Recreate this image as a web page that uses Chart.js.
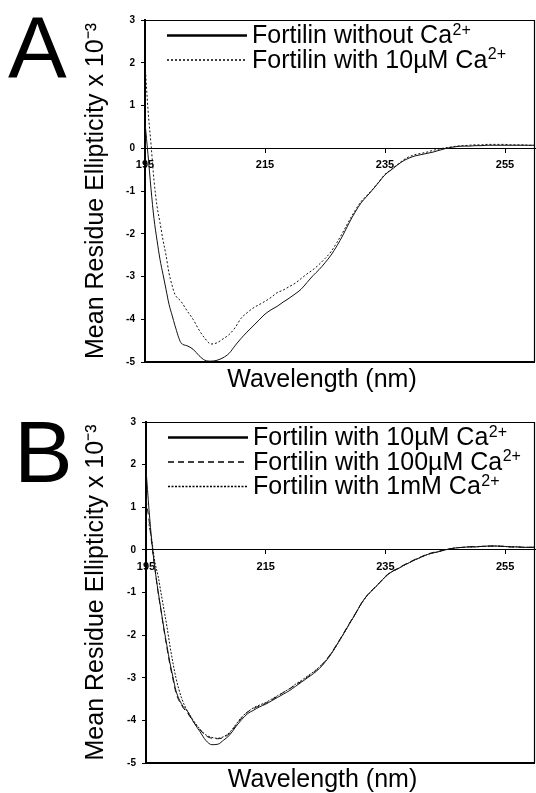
<!DOCTYPE html>
<html>
<head>
<meta charset="utf-8">
<script src="https://cdn.jsdelivr.net/npm/chart.js@4.4.1/dist/chart.umd.min.js"></script>
<style>
    html, body { margin: 0; padding: 0; background: #fff; overflow: hidden; }
    #wrap { position: relative; width: 536px; height: 793px; overflow: hidden; }
    canvas { position: absolute; left: 0; }
    #panelA { top: 0; }
    #panelB { top: 398px; }
</style>
</head>
<body>
<div id="wrap">
    <canvas id="panelA" width="536" height="396"></canvas>
    <canvas id="panelB" width="536" height="398"></canvas>
</div>
<script>
// wavelength grid (nm), finer over the steep part near 195 nm
const wavelengths = [195, 195.5, 196, 196.5, 197, 197.5, 198, 198.5, 199, 199.5,
    200, 201, 202, 203, 204, 205, 206, 207, 208, 209,
    210, 211, 212, 213, 214, 215, 216, 217, 218, 219,
    220, 221, 222, 223, 224, 225, 226, 227, 228, 229,
    230, 231, 232, 233, 234, 235, 236, 237, 238, 239,
    240, 241, 242, 243, 244, 245, 246, 247, 248, 249,
    250, 251, 252, 253, 254, 255, 256, 257, 258, 259, 260];

const xTicks = [195, 215, 235, 255];
const yTicks = [-5, -4, -3, -2, -1, 0, 1, 2, 3];

// Panel A
const withoutCa = [0.6, -0.15, -0.95, -1.65, -2.15, -2.6, -2.95, -3.3, -3.65, -3.9,
    -4.15, -4.55, -4.62, -4.7, -4.85, -4.96, -4.98, -4.96, -4.9, -4.8,
    -4.62, -4.45, -4.3, -4.16, -4.02, -3.88, -3.78, -3.7, -3.6, -3.51,
    -3.41, -3.3, -3.14, -2.98, -2.84, -2.68, -2.5, -2.28, -2.03, -1.75,
    -1.5, -1.28, -1.12, -0.96, -0.79, -0.62, -0.51, -0.4, -0.3, -0.23,
    -0.18, -0.15, -0.12, -0.09, -0.05, -0.01, 0.02, 0.04, 0.05, 0.05,
    0.06, 0.06, 0.07, 0.07, 0.07, 0.07, 0.07, 0.07, 0.07, 0.07, 0.07];

const with10uMA = [2.0, 0.9, 0.1, -0.75, -1.35, -1.74, -2.15, -2.5, -2.92, -3.2,
    -3.42, -3.58, -3.8, -4.0, -4.25, -4.45, -4.58, -4.55, -4.46, -4.36,
    -4.2, -3.98, -3.85, -3.74, -3.66, -3.58, -3.49, -3.38, -3.32, -3.24,
    -3.16, -3.05, -2.94, -2.84, -2.72, -2.58, -2.42, -2.2, -1.96, -1.7,
    -1.46, -1.25, -1.1, -0.95, -0.78, -0.61, -0.5, -0.39, -0.28, -0.2,
    -0.15, -0.12, -0.09, -0.05, -0.02, 0.01, 0.03, 0.05, 0.06, 0.07,
    0.08, 0.08, 0.09, 0.09, 0.09, 0.09, 0.08, 0.08, 0.08, 0.07, 0.07];

// Panel B
const with10uMB = [1.9, 0.95, 0.15, -0.45, -0.95, -1.4, -1.85, -2.25, -2.65, -2.98,
    -3.3, -3.63, -3.8, -4.05, -4.26, -4.47, -4.57, -4.56, -4.46, -4.34,
    -4.15, -3.98, -3.84, -3.76, -3.68, -3.62, -3.54, -3.46, -3.38, -3.3,
    -3.2, -3.1, -3.0, -2.9, -2.78, -2.62, -2.43, -2.2, -1.97, -1.73,
    -1.5, -1.25, -1.06, -0.92, -0.78, -0.63, -0.52, -0.45, -0.37, -0.3,
    -0.23, -0.17, -0.11, -0.07, -0.04, 0.0, 0.03, 0.05, 0.06, 0.07,
    0.07, 0.08, 0.09, 0.09, 0.09, 0.08, 0.07, 0.07, 0.06, 0.06, 0.06];

const with100uM = [1.2, 0.7, 0.1, -0.45, -0.98, -1.42, -1.88, -2.3, -2.7, -3.03,
    -3.35, -3.66, -3.84, -4.05, -4.22, -4.36, -4.42, -4.43, -4.4, -4.3,
    -4.12, -3.94, -3.8, -3.72, -3.66, -3.6, -3.52, -3.43, -3.34, -3.26,
    -3.17, -3.08, -2.98, -2.88, -2.75, -2.6, -2.41, -2.19, -1.96, -1.72,
    -1.49, -1.25, -1.06, -0.91, -0.77, -0.62, -0.51, -0.44, -0.36, -0.29,
    -0.22, -0.16, -0.1, -0.06, -0.03, 0.01, 0.03, 0.05, 0.06, 0.07,
    0.08, 0.08, 0.09, 0.09, 0.08, 0.08, 0.07, 0.07, 0.06, 0.06, 0.06];

const with1mM = [null, 0.6, 0.2, -0.3, -0.6, -1.0, -1.4, -1.8, -2.25, -2.65,
    -3.0, -3.5, -3.8, -4.02, -4.2, -4.34, -4.4, -4.42, -4.38, -4.28,
    -4.1, -3.92, -3.8, -3.7, -3.64, -3.58, -3.5, -3.42, -3.34, -3.25,
    -3.15, -3.06, -2.96, -2.86, -2.74, -2.6, -2.42, -2.21, -1.98, -1.74,
    -1.5, -1.26, -1.07, -0.92, -0.78, -0.63, -0.52, -0.45, -0.37, -0.3,
    -0.23, -0.17, -0.11, -0.07, -0.04, 0.0, 0.03, 0.05, 0.06, 0.07,
    0.07, 0.08, 0.08, 0.09, 0.09, 0.08, 0.07, 0.07, 0.06, 0.06, 0.06];

const FONT = '"Liberation Sans", Arial, Helvetica, sans-serif';
Chart.defaults.font.family = FONT;
Chart.defaults.color = '#000';

const toPoints = values => wavelengths.map((x, i) => ({ x, y: values[i] }));

const lineDataset = (label, values, dash, legendWidth) => ({
    label,
    data: toPoints(values),
    borderColor: '#111',
    borderWidth: 1,
    borderDash: dash,
    legendWidth,
    pointRadius: 0,
    fill: false,
    cubicInterpolationMode: 'monotone',
});

// panel letter, legend and the box around the plot
const panelDecor = {
    id: 'panelDecor',
    afterLayout(chart) {
        // the x title in the original sits a little left of the plot centre
        const s = chart.scales.xTitle;
        s.left -= 18;
        s.right -= 18;
    },
    afterDraw(chart, args, opts) {
        const { ctx, chartArea: area } = chart;
        ctx.save();

        ctx.strokeStyle = '#000';
        ctx.lineWidth = 1.2;
        ctx.beginPath();
        ctx.moveTo(area.left, area.top + 0.5);
        ctx.lineTo(area.right, area.top + 0.5);
        ctx.moveTo(area.right - 0.5, area.top);
        ctx.lineTo(area.right - 0.5, area.bottom);
        ctx.stroke();
        ctx.lineWidth = 2.2;
        ctx.beginPath();
        ctx.moveTo(area.left - 1, area.bottom);
        ctx.lineTo(area.right, area.bottom);
        ctx.stroke();

        ctx.fillStyle = '#000';
        ctx.font = '88px ' + FONT;
        ctx.textBaseline = 'alphabetic';
        ctx.textAlign = 'left';
        ctx.fillText(opts.letter, opts.letterX, opts.letterY);

        ctx.textBaseline = 'middle';
        chart.data.datasets.forEach((ds, i) => {
            const y = area.top + 15.5 + i * 24.5;
            const x = area.left + 107;
            ctx.lineWidth = ds.legendWidth;
            ctx.setLineDash(ds.borderDash || []);
            ctx.beginPath();
            ctx.moveTo(area.left + 22, y);
            ctx.lineTo(area.left + 102, y);
            ctx.stroke();
            ctx.setLineDash([]);

            // "Ca²⁺": draw the charge as a real raised superscript
            const base = ds.label.replace('²⁺', '');
            ctx.font = '25px ' + FONT;
            ctx.fillText(base, x, y + 1);
            if (base !== ds.label) {
                const w = ctx.measureText(base).width;
                ctx.font = '16px ' + FONT;
                ctx.fillText('2+', x + w + 0.5, y - 5);
            }
        });

        ctx.restore();
    },
};

function makePanel(canvasId, datasets, opts) {
    const canvas = document.getElementById(canvasId);

    return new Chart(canvas, {
        type: 'line',
        data: { datasets },
        options: {
            responsive: false,
            animation: false,
            layout: { padding: { top: opts.top, right: 1, left: 0, bottom: 0 } },
            plugins: {
                legend: { display: false },
                tooltip: { enabled: false },
                panelDecor: { letter: opts.letter, letterX: opts.letterX, letterY: opts.letterY },
            },
            scales: {
                x: {
                    type: 'linear',
                    min: 195,
                    max: 260,
                    position: { y: 0 },
                    afterBuildTicks: scale => { scale.ticks = xTicks.map(value => ({ value })); },
                    grid: { drawOnChartArea: false, tickLength: 4, color: '#000' },
                    border: { display: true, color: '#000', width: 1 },
                    ticks: { font: { size: 11, weight: 'bold' }, padding: 6, maxRotation: 0, autoSkip: false },
                },
                xTitle: {
                    type: 'linear',
                    axis: 'x',
                    position: 'bottom',
                    min: 195,
                    max: 260,
                    grid: { display: false },
                    border: { display: false },
                    ticks: { display: false },
                    title: { display: true, text: 'Wavelength (nm)', font: { size: 25 }, padding: { top: 0, bottom: opts.titlePad } },
                    afterFit: scale => { scale.height = opts.bottomSpace; },
                },
                y: {
                    min: -5,
                    max: 3,
                    afterBuildTicks: scale => { scale.ticks = yTicks.map(value => ({ value })); },
                    grid: { drawOnChartArea: false, tickLength: 4, color: '#000' },
                    border: { display: true, color: '#000', width: 2 },
                    ticks: { font: { size: 10, weight: 'bold' }, padding: 6 },
                    title: { display: true, text: 'Mean Residue Ellipticity x 10⁻³', font: { size: 25 }, padding: { top: 81, bottom: 0 } },
                    afterFit: scale => { scale.width = opts.left; },
                },
            },
        },
        plugins: [panelDecor],
    });
}

makePanel('panelA', [
    lineDataset('Fortilin without Ca²⁺', withoutCa, [], 2.5),
    lineDataset('Fortilin with 10µM Ca²⁺', with10uMA, [2, 2], 1.5),
], { letter: 'A', letterX: 8, letterY: 78, top: 20, left: 145, bottomSpace: 34, titlePad: 0.5 });

makePanel('panelB', [
    lineDataset('Fortilin with 10µM Ca²⁺', with10uMB, [], 2.5),
    lineDataset('Fortilin with 100µM Ca²⁺', with100uM, [6, 4], 1.5),
    lineDataset('Fortilin with 1mM Ca²⁺', with1mM, [2, 1.5], 1.5),
], { letter: 'B', letterX: 14, letterY: 84, top: 24, left: 146, bottomSpace: 33, titlePad: 0.5 });
</script>
</body>
</html>
